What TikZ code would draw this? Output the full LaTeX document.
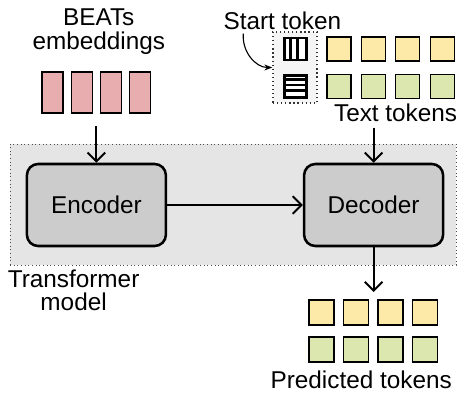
\documentclass[tikz,border=0pt]{standalone}
\usepackage{fontspec}
\setmainfont{Liberation Sans}
\usetikzlibrary{arrows.meta}
\definecolor{beatsred}{HTML}{E8AEAF}
\definecolor{tokyel}{HTML}{FDE9A8}
\definecolor{tokgrn}{HTML}{DCE7B0}
\tikzset{
  blocco/.style = {rectangle, rounded corners=8pt, draw, line width=1.8pt, fill=black!20, minimum width=34.75mm, minimum height=20.5mm},
  emb/.style    = {rectangle, draw, line width=0.9pt, fill=beatsred, minimum width=5.25mm, minimum height=10.25mm, inner sep=0},
  tok/.style    = {rectangle, draw, line width=0.9pt, minimum size=6mm, inner sep=0},
  inizio/.style = {rectangle, draw, line width=2.1pt, fill=white, minimum size=5.5mm, inner sep=0},
  arr/.style    = {line width=1.4pt, -{Straight Barb[length=2.2mm, width=4.4mm]}},
  et/.style     = {font=\fontsize{17.3}{16.9}\selectfont, align=center, inner sep=0}
}
\begin{document}
\begin{tikzpicture}
  \useasboundingbox (0,0) rectangle (11.425,-9.85);
  % transformer area
  \node[draw=black!70, dotted, line width=0.6pt, fill=black!10, minimum width=111.5mm, minimum height=30.25mm, inner sep=0] (area) at (5.825,-5.1125) {};
  \node[et] (ltrans) at (1.84,-7.26) {Transformer\\model};
  \node[blocco, et] (enc) at (2.41,-5.125) {Encoder};
  \node[blocco, et] (dec) at (9.34,-5.125) {Decoder};
  \draw[arr] (enc) -- (dec);

  % BEATs embeddings
  \node[et] (lbeats) at (2.47,-0.8) {BEATs\\embeddings};
  \foreach \i/\x in {1/1.31, 2/2.045, 3/2.775, 4/3.5}
    \node[emb] (b\i) at (\x,-2.31) {};
  \coordinate (bin) at (2.41,-3.15);
  \draw[arr] (bin) -- (enc);

  % start token + text tokens
  \node[et] (lstart) at (7.06,-0.51) {Start token};
  \node[draw=black!80, dotted, line width=0.9pt, fill=black!4, minimum width=11mm, minimum height=17.75mm, inner sep=0] (sbox) at (7.375,-1.6875) {};
  \node[inizio] (sv) at (7.39,-1.225) {};
  \node[inizio] (sh) at (7.39,-2.16) {};
  \foreach \k in {1,2} {
    \draw[line width=2.1pt] ([xshift=\k*1.833mm]sv.north west) -- ([xshift=\k*1.833mm]sv.south west);
  }
  \foreach \k in {1,2,3} {
    \draw[line width=1.8pt] ([yshift=-\k*1.375mm]sh.north west) -- ([yshift=-\k*1.375mm]sh.north east);
  }
  \draw[line width=0.8pt, -{Stealth[length=2mm]}] ([xshift=5mm,yshift=-1mm]lstart.south west) to[out=-95, in=180] (sbox.west);
  \foreach \i/\x in {1/8.475, 2/9.335, 3/10.195, 4/11.055} {
    \node[tok, fill=tokyel] (ty\i) at (\x,-1.225) {};
    \node[tok, fill=tokgrn] (tg\i) at (\x,-2.16) {};
  }
  \node[et] (ltext) at (9.89,-2.83) {Text tokens};
  \coordinate (tin) at (9.34,-3.2);
  \draw[arr] (tin) -- (dec);

  % predicted tokens
  \coordinate (pout) at (9.34,-7.3);
  \draw[arr] (dec) -- (pout);
  \foreach \i/\x in {1/8.04, 2/8.9, 3/9.76, 4/10.625} {
    \node[tok, fill=tokyel, minimum size=6.25mm] (py\i) at (\x,-7.81) {};
    \node[tok, fill=tokgrn, minimum size=6.25mm] (pg\i) at (\x,-8.74) {};
  }
  \node[et] (lpred) at (9.03,-9.49) {Predicted tokens};
\end{tikzpicture}
\end{document}
